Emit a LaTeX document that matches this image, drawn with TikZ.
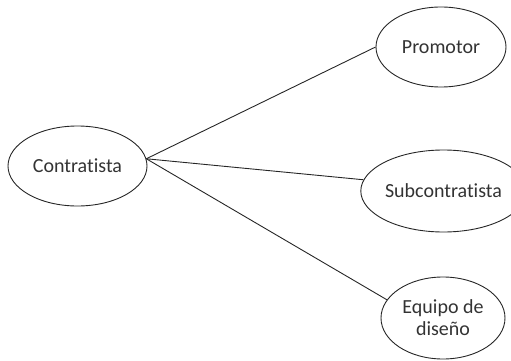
\documentclass[tikz,border=0pt]{standalone}
\usepackage{fontspec}
\setmainfont[Ligatures=NoCommon]{Carlito}
\usetikzlibrary{shapes.geometric}
\begin{document}
\begin{tikzpicture}[x=1pt,y=-1pt,
  actor/.style={ellipse,draw=black!85,line width=0.9pt,minimum width=#1,inner sep=0pt,font=\fontsize{20}{22}\selectfont,text=black!80,align=center},
  actor/.default=130pt,
  link/.style={draw=black!85,line width=0.9pt}]
\useasboundingbox (0,0) rectangle (511,361);
\node[actor=139pt,minimum height=80pt] (c) at (77.5,166) {Contratista};
\node[actor=130pt,minimum height=80pt] (p) at (441,47) {Promotor};
\node[actor=133pt,minimum height=82pt] (s) at (443.5,191) {Subcontratista};
\node[actor=124pt,minimum height=82pt] (e) at (443,318) {Equipo de\\diseño};
\draw[link] (c.6) -- (p.west);
\draw[link] (c.6) -- (s.172);
\draw[link] (c.6) -- (e.162);
\end{tikzpicture}
\end{document}
